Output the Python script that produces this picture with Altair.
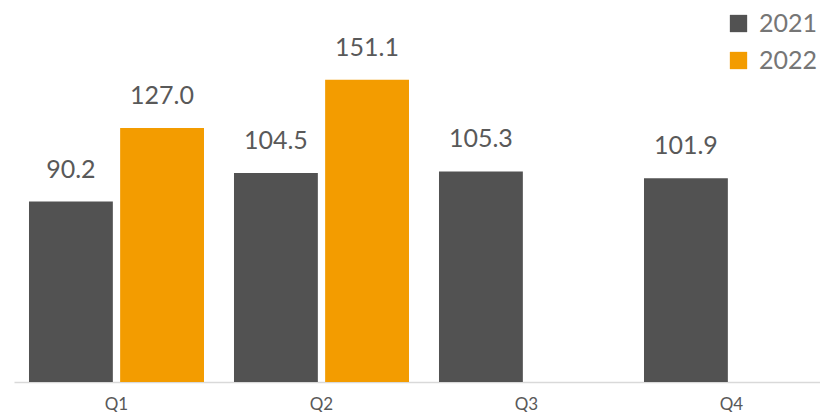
import altair as alt
import pandas as pd

quarters = ["Q1", "Q2", "Q3", "Q4"]
years = ["2021", "2022"]
values_2021 = [90.2, 104.5, 105.3, 101.9]
values_2022 = [127.0, 151.1, None, None]
colors = ["#525252", "#F39C00"]

rows = []
for q, v in zip(quarters, values_2021):
    rows.append({"quarter": q, "year": "2021", "value": v})
for q, v in zip(quarters, values_2022):
    if v is not None:
        rows.append({"quarter": q, "year": "2022", "value": v})
df = pd.DataFrame(rows)
df["label"] = df["value"].map(lambda v: f"{v:.1f}")

x_enc = alt.X("quarter:N", sort=quarters, title=None,
              scale=alt.Scale(paddingInner=30/205, paddingOuter=0.039, align=0.9375),
              axis=alt.Axis(labelAngle=0, ticks=False, grid=False, domainColor="#D9D9D9",
                            domainWidth=1.5, labelFont="Lato", labelFontSize=17,
                            labelColor="#595959", labelPadding=27,
                            labelBaseline="alphabetic"))
xo_enc = alt.XOffset("year:N", sort=years,
                     scale=alt.Scale(paddingInner=0.08, paddingOuter=0))
y_enc = alt.Y("value:Q", scale=alt.Scale(domain=[0, 185], nice=False, zero=True),
              axis=None)

bars = alt.Chart(df).mark_bar().encode(
    x=x_enc, xOffset=xo_enc, y=y_enc,
    color=alt.Color("year:N", sort=years,
                    scale=alt.Scale(domain=years, range=colors),
                    legend=alt.Legend(title=None, orient="none", legendX=712, legendY=-1,
                                      symbolType="square", symbolSize=300,
                                      symbolStrokeWidth=0, labelFont="Lato",
                                      labelFontSize=25, labelColor="#767676",
                                      labelOffset=8, rowPadding=11)),
)

labels = alt.Chart(df).mark_text(dy=-19, baseline="bottom", font="Lato",
                                 fontSize=25, color="#595959").encode(
    x=x_enc, xOffset=xo_enc, y=y_enc, text="label:N"
)

chart = (bars + labels).properties(
    width=806, height=370,
    background="white",
    autosize=alt.AutoSizeParams(type="none"),
    padding={"left": 6, "top": 4, "right": 0, "bottom": 30},
).configure_view(strokeWidth=0)

chart.save("out.html", embed_options={"renderer": "svg", "actions": False})
